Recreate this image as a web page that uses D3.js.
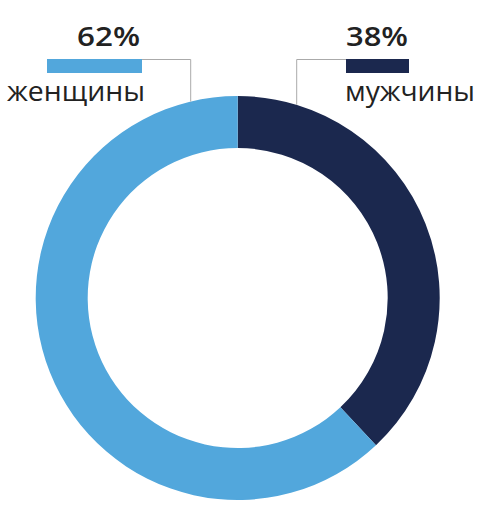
<!DOCTYPE html>
<html><head><meta charset="utf-8">
<script src="https://cdn.jsdelivr.net/npm/d3@7"></script>
<style>body{margin:0;background:#fff}svg{display:block}</style>
</head><body>
<script>
const categories = ["мужчины", "женщины"];
const values = [38, 62];
const valueLabels = ["38%", "62%"];
const colors = ["#1b284e", "#52a7dc"];

const W = 493, H = 522;
const cx = 237.7, cy = 298, R = 202, r = 150;

const svg = d3.select("body").append("svg").attr("width", W).attr("height", H);
const g = svg.append("g").attr("transform", `translate(${cx},${cy})`);

const pie = d3.pie().sort(null).value(d => d)(values);
const arc = d3.arc().innerRadius(r).outerRadius(R);
g.selectAll("path").data(pie).join("path")
  .attr("d", arc).attr("fill", (d, i) => colors[i]);

// legend / callouts
const callouts = [
  {i: 0, barX: 346, barW: 63, lineX: 296.7, anchor: "start", textX: 346, labelX: 345, numLen: 62, labLen: 130},
  {i: 1, barX: 47, barW: 95, lineX: 190.7, anchor: "end", textX: 140, labelX: 145, numLen: 63, labLen: 138}
];
const barY = 59, barH = 14;
callouts.forEach(c => {
  const yEdge = cy - Math.sqrt(R * R - (c.lineX - cx) ** 2);
  const hx = c.anchor === "start" ? c.barX : c.barX + c.barW;
  svg.append("path")
    .attr("d", `M${hx},${barY + 0.5}H${c.lineX}V${yEdge}`)
    .attr("fill", "none").attr("stroke", "#aaaaaa").attr("stroke-width", 1);
  svg.append("rect").attr("x", c.barX).attr("y", barY).attr("width", c.barW).attr("height", barH)
    .attr("fill", colors[c.i]);
  svg.append("text").attr("x", c.textX).attr("y", 46).attr("text-anchor", c.anchor)
    .attr("font-family", "'Open Sans', sans-serif").attr("font-weight", 600).attr("font-size", 27)
    .attr("textLength", c.numLen).attr("lengthAdjust", "spacingAndGlyphs")
    .attr("fill", "#222").text(valueLabels[c.i]);
  svg.append("text").attr("x", c.labelX).attr("y", 101).attr("text-anchor", c.anchor)
    .attr("font-family", "'Open Sans', sans-serif").attr("font-weight", 400).attr("font-size", 26.5)
    .attr("textLength", c.labLen).attr("lengthAdjust", "spacingAndGlyphs")
    .attr("fill", "#222").text(categories[c.i]);
});
</script>
</body></html>
